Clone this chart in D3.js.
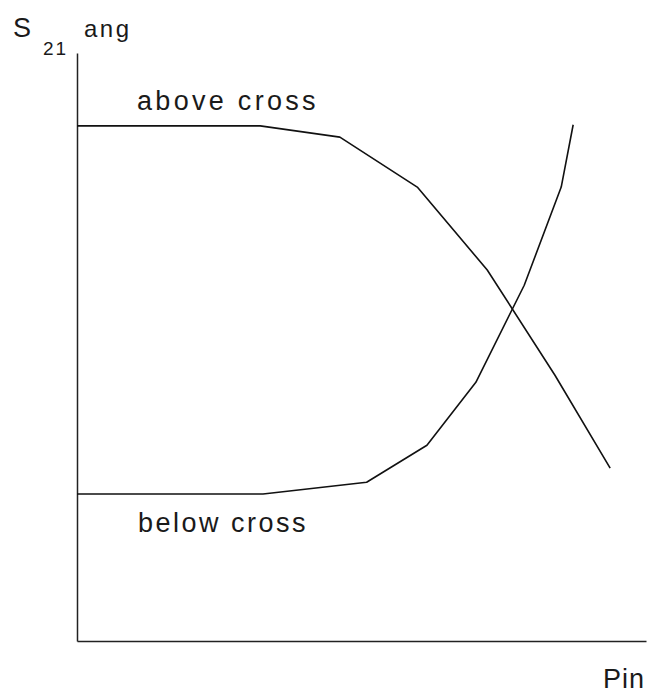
<!DOCTYPE html>
<html>
<head>
<meta charset="utf-8">
<script src="https://cdn.jsdelivr.net/npm/d3@7"></script>
<style>
  body { margin: 0; background: #fff; }
  text { font-family: "Liberation Sans", Arial, sans-serif; fill: #1a1a1a; }
</style>
</head>
<body>
<div id="chart"></div>
<script>
// input power (arbitrary units, 0..100 along the axis)
var pinAbove = [0, 32.2, 46.2, 59.8, 72.1, 84.0, 93.7];
var angAbove = [87.6, 87.6, 85.7, 77.2, 63.1, 45.2, 29.4];
var pinBelow = [0, 32.7, 50.9, 61.5, 70.1, 78.6, 85.1, 87.2];
var angBelow = [25.0, 25.0, 27.0, 33.3, 44.0, 60.5, 77.2, 87.8];

var w = 648;
var h = 697;

var svg = d3.select("#chart").append("svg").attr("width", w).attr("height", h);
svg.append("rect").attr("width", w).attr("height", h).attr("fill", "#fff");

var x = d3.scaleLinear().domain([0, 100]).range([77, 646]);
var y = d3.scaleLinear().domain([0, 100]).range([641, 53]);

// axes, no ticks
var xAxis = svg.append("g").attr("transform", "translate(0," + y(0) + ")")
	.call(d3.axisBottom(x).ticks(0).tickSizeOuter(0));
var yAxis = svg.append("g").attr("transform", "translate(" + x(0) + ",0)")
	.call(d3.axisLeft(y).ticks(0).tickSizeOuter(0));
svg.selectAll(".domain").attr("stroke", "#222").attr("stroke-width", 1.5);

var line = d3.line()
	.x(function(d) { return x(d[0]); })
	.y(function(d) { return y(d[1]); });

var above = pinAbove.map(function(p, i) { return [p, angAbove[i]]; });
var below = pinBelow.map(function(p, i) { return [p, angBelow[i]]; });

svg.selectAll("path.curve").data([above, below]).enter().append("path")
	.attr("class", "curve")
	.attr("d", line)
	.attr("fill", "none")
	.attr("stroke", "#111")
	.attr("stroke-width", 1.6)
	.attr("stroke-linejoin", "round");

// labels
function label(txt, tx, ty, size, sp) {
	svg.append("text").attr("x", tx).attr("y", ty)
		.attr("font-size", size).attr("letter-spacing", sp).text(txt);
}
label("S", 13, 37, 27, 0);
label("21", 43, 55, 19, 2);
label("ang", 84, 37, 24, 2.5);
label("above cross", 137, 110, 27, 3.3);
label("below cross", 138, 532, 27, 2.5);
label("Pin", 603, 688, 27, 1);
</script>
</body>
</html>
